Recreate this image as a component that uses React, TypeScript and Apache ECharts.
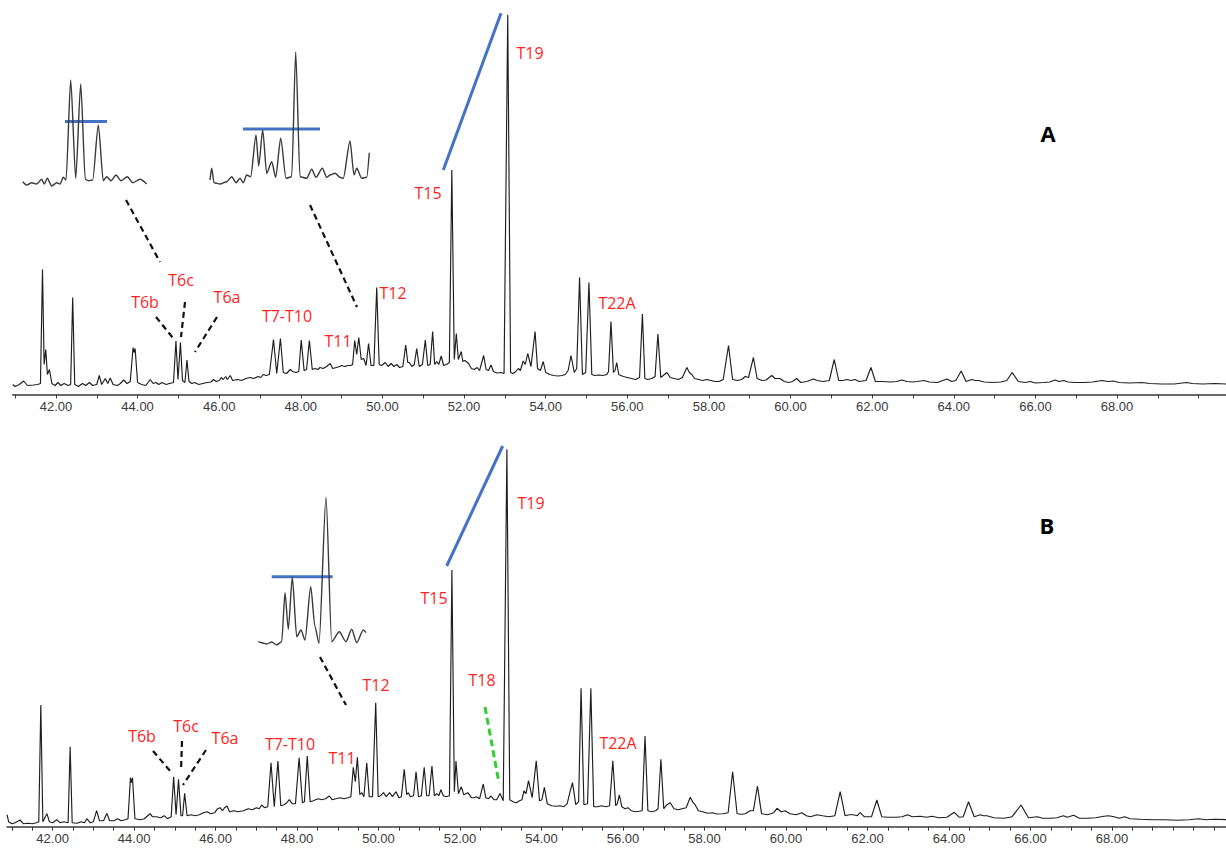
import React, { useEffect, useRef } from "react";
import * as echarts from "echarts";

// ---- axis tick labels ----
const xLabelValues = [42, 44, 46, 48, 50, 52, 54, 56, 58, 60, 62, 64, 66, 68];
const tickValuesA = [41, 42, 43, 44, 45, 46, 47, 48, 49, 50, 51, 52, 53, 54, 55, 56, 57, 58, 59, 60, 61, 62, 63, 64, 65, 66, 67, 68, 69, 70];
const tickValuesB = [41, 41.5, 42, 42.5, 43, 43.5, 44, 44.5, 45, 45.5, 46, 46.5, 47, 47.5, 48, 48.5, 49, 49.5, 50, 50.5, 51, 51.5, 52, 52.5, 53, 53.5, 54, 54.5, 55, 55.5, 56, 56.5, 57, 57.5, 58, 58.5, 59, 59.5, 60, 60.5, 61, 61.5, 62, 62.5, 63, 63.5, 64, 64.5, 65, 65.5, 66, 66.5, 67, 67.5, 68, 68.5, 69, 69.5, 70, 70.5];

// ---- chromatogram A: [retention time (min), intensity] ----
const traceA1 = [
  [40.94, 10], [41.0, 8], [41.1, 10], [41.21, 13.5], [41.3, 9], [41.45, 9.5], [41.55, 10], [41.62, 11], [41.67, 125], [41.71, 30], [41.75, 45], [41.79, 20], [41.84, 25], [41.9, 11], [41.98, 9], [42.05, 12], [42.12, 9], [42.2, 11], [42.3, 9], [42.36, 10], [42.41, 97], [42.46, 10], [42.55, 8], [42.65, 11], [42.73, 9], [42.82, 12], [42.9, 9], [43.0, 10], [43.06, 19], [43.12, 10], [43.21, 16], [43.27, 11], [43.33, 16.5], [43.4, 10], [43.5, 9], [43.58, 11], [43.66, 14.5], [43.74, 11], [43.82, 13], [43.89, 47], [43.915, 42], [43.94, 46], [44.0, 12], [44.1, 10], [44.2, 9], [44.31, 15], [44.38, 11], [44.45, 12], [44.52, 10], [44.6, 12], [44.7, 10], [44.78, 11], [44.88, 12], [44.94, 53.5], [44.99, 15], [45.05, 52], [45.1, 14], [45.16, 12], [45.21, 34.5], [45.26, 13], [45.33, 11], [45.4, 12], [45.5, 10], [45.6, 11], [45.7, 12], [45.8, 12.5], [45.86, 15], [45.93, 13], [46.0, 14], [46.05, 17], [46.1, 15], [46.16, 18], [46.2, 15], [46.27, 19], [46.33, 14], [46.45, 15], [46.55, 14], [46.65, 16], [46.76, 17], [46.85, 16], [46.95, 18], [47.02, 17], [47.08, 20], [47.15, 19], [47.23, 20],
];
const traceA2 = [
  [47.33, 55], [47.41, 21], [47.5, 56], [47.57, 22], [47.65, 21], [47.74, 25], [47.8, 23], [47.88, 22], [47.95, 23], [48.01, 54.5], [48.08, 24], [48.14, 25], [48.21, 54], [48.28, 25], [48.35, 26], [48.42, 25], [48.47, 27], [48.55, 26], [48.63, 28], [48.72, 31], [48.78, 26], [48.87, 27], [48.95, 28], [49.0, 29], [49.08, 28], [49.15, 29], [49.22, 29], [49.27, 30], [49.32, 54], [49.37, 40], [49.42, 57], [49.48, 35], [49.54, 36], [49.6, 29], [49.66, 51], [49.72, 29], [49.79, 29], [49.86, 107], [49.92, 30], [49.98, 29], [50.07, 32], [50.14, 28], [50.21, 31], [50.28, 28], [50.35, 30], [50.42, 27], [50.5, 28], [50.57, 49.5], [50.62, 32], [50.66, 32], [50.72, 28], [50.78, 30], [50.84, 46], [50.9, 28], [50.98, 30], [51.05, 54.5], [51.11, 29], [51.17, 30], [51.23, 63], [51.28, 30], [51.33, 33], [51.38, 30], [51.44, 38.5], [51.5, 29], [51.57, 30], [51.64, 32], [51.7, 224.5], [51.76, 35], [51.81, 61], [51.86, 35], [51.93, 43], [51.97, 33], [52.02, 34], [52.11, 31], [52.18, 26], [52.25, 25], [52.32, 27], [52.38, 24], [52.48, 39], [52.54, 25], [52.6, 24], [52.66, 29.5], [52.72, 23], [52.8, 21.5], [52.9, 22], [52.98, 21], [53.07, 379.5], [53.14, 22], [53.2, 21], [53.27, 23], [53.33, 26], [53.38, 24], [53.45, 33.5], [53.5, 30], [53.56, 41], [53.64, 28], [53.74, 63], [53.8, 26], [53.87, 24], [53.94, 33],
];
const traceA3 = [
  [54.0, 22], [54.1, 20], [54.2, 19], [54.3, 18.5], [54.4, 19], [54.48, 20], [54.55, 24], [54.62, 39], [54.7, 22], [54.76, 26], [54.83, 117], [54.9, 20], [54.98, 22], [55.06, 112], [55.13, 20], [55.2, 19], [55.3, 19.5], [55.4, 19], [55.5, 20], [55.54, 23], [55.6, 73], [55.66, 22], [55.7, 24], [55.74, 32], [55.79, 20], [55.9, 18], [56.0, 17], [56.1, 16], [56.2, 15], [56.3, 17], [56.37, 80.5], [56.43, 16], [56.5, 15], [56.6, 16], [56.68, 18], [56.75, 60.5], [56.82, 17], [56.88, 19], [56.97, 22], [57.05, 17], [57.15, 16], [57.25, 15], [57.35, 17], [57.46, 27], [57.52, 22], [57.58, 20], [57.65, 16], [57.75, 15], [57.85, 14], [57.95, 15], [58.05, 14], [58.15, 13], [58.25, 13], [58.35, 15], [58.48, 49], [58.58, 15], [58.7, 14], [58.8, 15], [58.89, 18], [58.97, 17], [59.09, 37], [59.18, 16], [59.3, 14], [59.4, 14.5], [59.54, 19], [59.62, 16], [59.74, 16], [59.85, 13], [59.95, 12], [60.05, 13], [60.15, 16], [60.25, 12], [60.4, 13], [60.56, 15.5], [60.65, 14], [60.8, 13], [60.95, 14], [61.07, 35], [61.18, 14], [61.28, 14], [61.38, 15], [61.48, 14], [61.58, 15], [61.68, 13], [61.85, 14], [61.97, 27], [62.08, 13], [62.25, 13], [62.45, 12.5], [62.6, 13], [62.73, 14.5], [62.85, 13], [63.0, 12.5], [63.1, 13], [63.27, 14], [63.4, 12.5], [63.6, 12], [63.83, 15.5], [63.95, 13], [64.05, 14], [64.18, 23.5], [64.3, 13], [64.44, 15], [64.52, 14], [64.6, 14], [64.75, 12.5], [64.95, 12], [65.15, 12.5], [65.3, 14], [65.43, 22], [65.58, 13], [65.75, 12], [65.87, 13], [66.0, 11.5], [66.2, 12], [66.35, 12.5], [66.48, 14.5], [66.58, 13], [66.69, 14], [66.8, 12.5], [66.95, 12], [67.2, 12], [67.4, 12.5], [67.63, 14], [67.78, 13], [67.91, 13.5], [68.05, 12], [68.3, 11.5], [68.61, 12], [68.8, 11], [69.1, 10.5], [69.4, 10.5], [69.7, 12], [69.85, 11], [70.1, 10.5], [70.4, 11], [70.67, 10.5],
];

// ---- chromatogram B ----
const traceB1 = [
  [40.88, 12], [40.92, 5], [41.0, 3], [41.08, 4], [41.2, 6.7], [41.28, 3], [41.4, 3.5], [41.5, 3], [41.6, 4], [41.66, 5], [41.71, 121.7], [41.76, 5], [41.82, 10], [41.86, 13], [41.92, 5], [42.0, 4], [42.1, 7], [42.18, 4], [42.27, 5], [42.38, 4], [42.43, 80], [42.48, 4], [42.6, 3.5], [42.7, 5], [42.78, 4], [42.84, 8], [42.92, 4], [43.0, 5], [43.08, 16], [43.15, 6], [43.25, 6], [43.33, 13.3], [43.4, 6], [43.5, 6], [43.6, 8], [43.68, 6], [43.78, 7], [43.85, 8], [43.91, 49], [43.935, 44], [43.96, 49], [44.02, 8], [44.15, 7], [44.25, 8], [44.39, 13], [44.45, 10], [44.55, 10], [44.65, 9], [44.74, 11], [44.82, 8], [44.91, 10], [44.97, 50], [45.03, 12], [45.09, 47.3], [45.15, 11], [45.19, 11], [45.24, 33.3], [45.3, 11], [45.4, 12], [45.5, 11], [45.6, 12], [45.7, 14], [45.79, 15], [45.88, 13], [45.98, 14], [46.05, 18], [46.11, 19], [46.17, 16], [46.22, 19], [46.28, 20.7], [46.34, 15], [46.45, 16], [46.55, 15], [46.68, 16], [46.8, 18], [46.9, 17], [47.0, 19], [47.07, 18], [47.13, 21.7], [47.2, 19], [47.28, 20],
];
const traceB2 = [
  [47.36, 64], [47.44, 20], [47.53, 65.7], [47.6, 21], [47.68, 22], [47.75, 24], [47.81, 27], [47.88, 23], [47.96, 23], [48.05, 69], [48.13, 24], [48.18, 25], [48.25, 70.7], [48.32, 25], [48.4, 26], [48.45, 27], [48.52, 28], [48.6, 27], [48.7, 28], [48.79, 30.7], [48.86, 27], [48.95, 28], [49.06, 29], [49.15, 28], [49.25, 29], [49.32, 30], [49.38, 59.3], [49.43, 45], [49.48, 69.3], [49.54, 32], [49.59, 34], [49.64, 30], [49.71, 64], [49.77, 30], [49.85, 30], [49.93, 124], [49.99, 30], [50.05, 31], [50.12, 34], [50.19, 30], [50.27, 34], [50.34, 30], [50.43, 35], [50.5, 29], [50.56, 30], [50.63, 57.4], [50.69, 32], [50.73, 34], [50.78, 30], [50.86, 31], [50.92, 55], [50.98, 30], [51.05, 31], [51.12, 59.4], [51.18, 31], [51.24, 31], [51.31, 60.7], [51.37, 31], [51.43, 33], [51.48, 31], [51.53, 37], [51.59, 31], [51.66, 30], [51.74, 31], [51.8, 256.7], [51.86, 35], [51.9, 65.7], [51.96, 33], [52.03, 40], [52.09, 32], [52.19, 34], [52.28, 29], [52.34, 29], [52.4, 30], [52.48, 28], [52.57, 42.7], [52.63, 29], [52.7, 28], [52.76, 30.7], [52.83, 27], [52.9, 27], [52.98, 33.3], [53.06, 26], [53.15, 377.4], [53.22, 27], [53.3, 25], [53.38, 24], [53.46, 26], [53.52, 27], [53.57, 36], [53.62, 33], [53.68, 46], [53.77, 29], [53.87, 66], [53.95, 26], [54.01, 27], [54.07, 39.4],
];
const traceB3 = [
  [54.14, 23], [54.25, 21], [54.35, 20.5], [54.45, 21], [54.55, 20], [54.63, 23], [54.7, 35], [54.76, 44], [54.84, 22], [54.91, 25], [54.97, 138.4], [55.04, 22], [55.13, 23], [55.21, 138.4], [55.28, 20], [55.38, 20], [55.47, 21], [55.58, 20], [55.67, 21], [55.75, 66], [55.82, 21], [55.86, 23], [55.91, 31.7], [55.97, 20], [56.05, 18], [56.12, 19], [56.2, 16], [56.3, 15], [56.4, 15.5], [56.47, 16], [56.54, 90.7], [56.61, 16], [56.7, 15], [56.8, 16], [56.86, 18], [56.93, 67.4], [57.0, 18], [57.08, 22], [57.16, 24], [57.25, 18], [57.35, 17], [57.45, 18], [57.55, 19], [57.65, 29.4], [57.72, 24], [57.77, 22], [57.85, 16], [57.95, 15], [58.08, 13.4], [58.2, 14], [58.3, 12.7], [58.45, 13], [58.58, 14], [58.69, 55], [58.8, 13], [58.9, 12.5], [59.0, 13], [59.12, 16], [59.2, 16], [59.3, 40.7], [59.4, 13], [59.55, 12], [59.7, 14], [59.78, 18.4], [59.88, 15], [59.98, 16], [60.1, 13], [60.25, 12], [60.39, 14], [60.5, 11], [60.6, 10], [60.76, 12], [60.9, 11], [61.05, 10], [61.2, 11], [61.33, 35], [61.45, 11], [61.55, 12], [61.65, 12], [61.75, 11], [61.82, 14], [61.92, 10], [62.1, 10], [62.23, 26.7], [62.35, 10], [62.5, 9.5], [62.7, 9.5], [62.85, 10], [62.98, 12], [63.1, 10], [63.29, 10.5], [63.45, 9.5], [63.58, 10.5], [63.75, 9], [63.95, 9.5], [64.13, 14.4], [64.25, 9.5], [64.35, 10], [64.48, 25], [64.62, 10], [64.77, 12], [64.85, 11], [64.93, 11], [65.1, 9], [65.35, 8.5], [65.55, 10], [65.77, 21.7], [65.95, 9], [66.17, 10], [66.3, 8.5], [66.5, 8.5], [66.65, 9], [66.81, 11], [66.9, 9.5], [67.06, 11.5], [67.2, 8.5], [67.4, 8.5], [67.6, 9], [67.8, 10.5], [67.92, 11], [68.05, 10], [68.18, 8.5], [68.31, 10], [68.45, 8], [68.7, 7.5], [69.0, 7], [69.3, 7], [69.6, 6.5], [69.9, 7], [70.13, 8], [70.3, 7], [70.53, 7.5], [70.8, 7],
];

// ---- zoomed insets (relative units) ----
const insetA1 = [
  [0.7, 6.3], [4.7, 3], [9.7, 5.3], [14.7, 4], [19.7, 8.7], [22.3, 4], [25.3, 9.7], [29.7, 2], [34.7, 5.3], [38, 4], [41.3, 10.7], [44, 8], [48.7, 108], [53.7, 9.7], [58.7, 104], [63.3, 8.7], [66.3, 7.3], [70.7, 8], [76.3, 63], [81.3, 7.3], [84.7, 11.3], [89, 7.3], [94, 13], [99, 7.3], [105.3, 11.3], [110.7, 5.3], [118, 8.7], [124.7, 4],
];
const insetA2 = [
  [1, 8], [2.7, 19.7], [5, 5.3], [11, 4], [17.7, 6.3], [22.7, 11.3], [27, 5.3], [31, 9.7], [34.3, 5.3], [37.7, 13], [41.7, 11.3], [47, 53], [49.7, 22], [53.7, 58], [57.7, 14.7], [62.7, 26.3], [66.7, 10.7], [71.7, 49.7], [77, 9.7], [82.7, 11.3], [86.7, 136], [91, 11.3], [97.7, 9.7], [102.7, 18.7], [107, 10.7], [113.3, 19.7], [117.7, 10.7], [121, 13], [126, 14.7], [131, 10.7], [134.3, 9.7], [141, 47], [145, 13], [147.7, 19.7], [152.7, 9.7], [157.7, 10.7], [160.3, 35.3],
];
const insetB = [
  [0.3, 3.3], [3.7, 2.3], [8.7, 1], [13.7, 3], [18.7, 0], [23.7, 3.3], [27, 52.3], [30.3, 15.7], [34.3, 67.7], [38.7, 8.3], [43, 15], [47, 5], [52.7, 58.3], [57, 18.3], [61, 1.7], [68, 147.7], [73.7, 3.3], [81.3, 13.3], [88, 3.3], [93.7, 15.7], [98.7, 2.3], [105.3, 15], [108, 12.3],
];

// ---- peak labels ----
const labelsA: [string, number, number][] = [
  ["T6b", 145, 302], ["T6c", 181, 280], ["T6a", 227, 297], ["T7-T10", 287, 316], ["T11", 338, 341], ["T12", 393, 293], ["T15", 428, 192.5], ["T19", 530, 53], ["T22A", 617, 303],
];
const labelsB: [string, number, number][] = [
  ["T6b", 142, 736], ["T6c", 186, 726], ["T6a", 225, 738], ["T7-T10", 290, 744], ["T11", 342, 757.5], ["T12", 376, 685], ["T15", 434, 597.5], ["T18", 482, 680], ["T19", 531, 503], ["T22A", 618, 743],
];

const RED = "#ff1f1f";
const BLUE = "#4472c4";

function mainAxis(gridIndex: number, min: number, max: number, ticks: number[]) {
  return {
    gridIndex,
    type: "value",
    min,
    max,
    axisLine: { show: true, onZero: false, lineStyle: { color: "#3a3a3a", width: 1.5 } },
    axisTick: { show: true, customValues: ticks, length: 4, lineStyle: { color: "#3a3a3a", width: 1 } },
    axisLabel: {
      customValues: xLabelValues,
      formatter: (v: number) => v.toFixed(2),
      color: "#3a3a3a",
      fontSize: 13,
      fontFamily: "Liberation Sans, Arial, sans-serif",
      margin: 5,
    },
    splitLine: { show: false },
  };
}

function hiddenAxis(gridIndex: number, max: number) {
  return { gridIndex, type: "value", min: 0, max, show: false, splitLine: { show: false } };
}

function seg(x1: number, y1: number, x2: number, y2: number, stroke: string, lineWidth: number, dash?: number[]) {
  return {
    type: "line",
    silent: true,
    shape: { x1, y1, x2, y2 },
    style: { stroke, lineWidth, lineDash: dash || null, lineCap: "butt" },
  };
}

function label(text: string, x: number, y: number, fill = RED, font = "16px 'Open Sans', sans-serif") {
  return {
    type: "text",
    silent: true,
    x,
    y,
    style: { text, fill, font, textAlign: "center", textVerticalAlign: "middle" },
  };
}

function traceSeries(data: number[][], idx: number, color = "#1e1e1e", width = 1.15, smooth = 0) {
  return {
    type: "line",
    xAxisIndex: idx,
    yAxisIndex: idx,
    data,
    showSymbol: false,
    symbol: "none",
    silent: true,
    smooth,
    smoothMonotone: "x",
    lineStyle: { color, width },
  };
}

export default function App() {
  const ref = useRef<HTMLDivElement>(null);
  useEffect(() => {
    if (!ref.current) return;
    const chart = echarts.init(ref.current, null, { renderer: "svg" });
    const dash = [6, 4];
    const option = {
      animation: false,
      backgroundColor: "#ffffff",
      grid: [
        { left: 12.7, top: 0, width: 1213.3, height: 394.5 },
        { left: 7, top: 426.7, width: 1219, height: 400 },
        { left: 22, top: 75, width: 126, height: 113 },
        { left: 209, top: 45, width: 162, height: 143 },
        { left: 258, top: 490, width: 110, height: 155 },
      ],
      xAxis: [
        mainAxis(0, 40.94, 70.67, tickValuesA),
        mainAxis(1, 40.88, 70.8, tickValuesB),
        hiddenAxis(2, 126),
        hiddenAxis(3, 162),
        hiddenAxis(4, 110),
      ],
      yAxis: [
        hiddenAxis(0, 394.5),
        hiddenAxis(1, 400),
        hiddenAxis(2, 113),
        hiddenAxis(3, 143),
        hiddenAxis(4, 155),
      ],
      series: [
        traceSeries([...traceA1, ...traceA2, ...traceA3], 0),
        traceSeries([...traceB1, ...traceB2, ...traceB3], 1),
        traceSeries(insetA1, 2, "#3a3a3a", 1.4, 0.25),
        traceSeries(insetA2, 3, "#3a3a3a", 1.4, 0.25),
        traceSeries(insetB, 4, "#3a3a3a", 1.4, 0.25),
      ],
      graphic: [
        // panel A annotations
        seg(501, 13.3, 443.3, 170, BLUE, 3),
        seg(65, 121.5, 107, 121.5, BLUE, 3),
        seg(243, 129, 320, 129, BLUE, 3),
        seg(126, 200, 160, 262, "#111", 2.2, dash),
        seg(310, 205, 357, 307, "#111", 2.2, dash),
        seg(156, 317, 173, 338, "#111", 2.2, dash),
        seg(185, 302, 181, 337, "#111", 2.2, dash),
        seg(217, 317, 195, 352, "#111", 2.2, dash),
        ...labelsA.map(([t, x, y]) => label(t, x, y)),
        label("A", 1048, 133, "#000", "bold 22px 'Open Sans', sans-serif"),
        // panel B annotations
        seg(502.7, 446, 446.7, 566, BLUE, 3),
        seg(271.7, 576.7, 332.7, 576.7, BLUE, 3),
        seg(320, 657, 346, 705, "#111", 2.2, dash),
        seg(153, 751, 171, 772, "#111", 2.2, dash),
        seg(182, 741, 181, 771, "#111", 2.2, dash),
        seg(206, 750, 183, 785, "#111", 2.2, dash),
        seg(485, 707, 499, 783, "#33cc33", 3, [7, 4]),
        ...labelsB.map(([t, x, y]) => label(t, x, y)),
        label("B", 1047, 525, "#000", "bold 22px 'Open Sans', sans-serif"),
      ],
    };
    chart.setOption(option as any);
    return () => chart.dispose();
  }, []);
  return (
    <div
      ref={ref}
      style={{ position: "absolute", left: 0, top: 0, width: 1226, height: 848, background: "#fff" }}
    />
  );
}
